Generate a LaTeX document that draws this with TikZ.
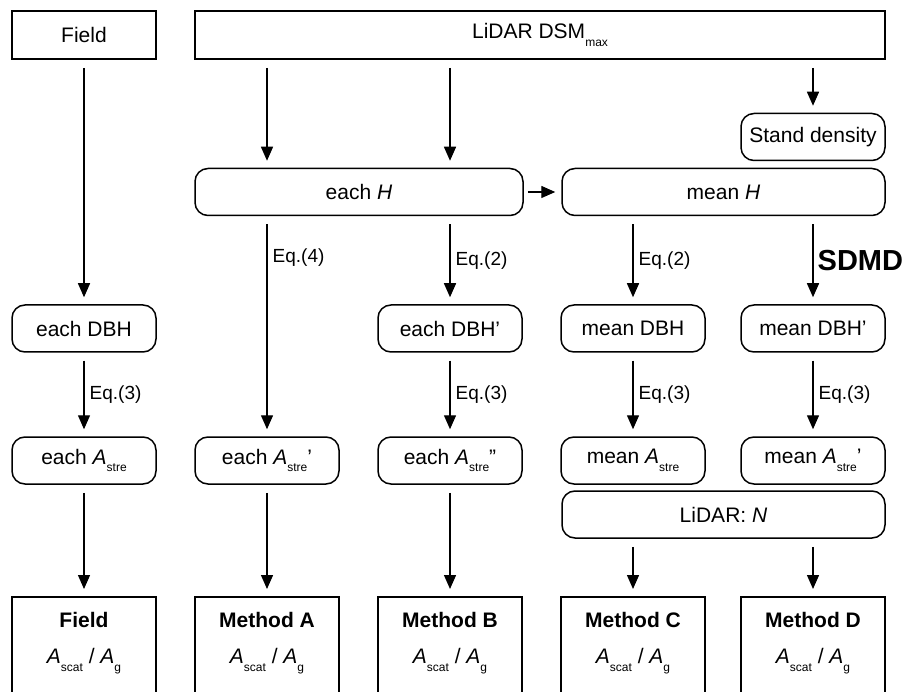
\documentclass[tikz,border=0pt]{standalone}
\usepackage{fontspec}
\setmainfont{Liberation Sans}
\usepackage{tikz}
\usetikzlibrary{positioning,calc,arrows.meta}
\newcommand{\lowsub}[1]{\raisebox{-0.35em}{\fontsize{12}{12}\selectfont #1}}
\newcommand{\Astre}{\textit{A}\lowsub{stre}}
\newcommand{\ratio}{\textit{A}\lowsub{scat} / \textit{A}\lowsub{g}}

\begin{document}
\begin{tikzpicture}[x=1pt,y=-1pt,
    font=\fontsize{21}{25}\selectfont,
    sqbox/.style={draw,line width=1.8pt,minimum height=48pt,inner sep=0pt},
    rbox/.style={draw,line width=1.5pt,rounded corners=13pt,minimum height=47pt,minimum width=144pt,inner sep=0pt},
    resbox/.style={draw,line width=1.8pt,anchor=north,minimum width=144pt,minimum height=130pt},
    restitle/.style={font=\fontsize{21}{25}\selectfont\bfseries},
    flow/.style={-{Triangle[length=14pt,width=12pt]},line width=1.4pt,shorten <=8pt,shorten >=7pt},
    eq/.style={right,inner sep=5pt,font=\fontsize{19}{21}\selectfont}]
    \useasboundingbox (0,0) rectangle (918,692);
    \clip (0,0) rectangle (918,692);

    % Sources
    \node[sqbox,minimum width=144pt] (field) at (84,35) {Field};
    \node[sqbox,minimum width=690pt] (lidar) at (540,35) {LiDAR DSM\lowsub{max}};
    \node[rbox] (stand) at (813,137) {Stand density};

    % Heights
    \node[rbox,minimum width=328pt] (eachH) at (359,192) {each \textit{H}};
    \node[rbox,minimum width=323pt] (meanH) at (723.5,192) {mean \textit{H}};

    % DBH
    \node[rbox] (eDBH) at (84,328.5) {each DBH};
    \node[rbox] (eDBHb) at (450,328.5) {each DBH’};
    \node[rbox] (mDBH) at (633,328.5) {mean DBH};
    \node[rbox] (mDBHb) at (813,328.5) {mean DBH’};

    % Stem areas
    \node[rbox] (eA) at (84,460.5) {each \Astre};
    \node[rbox] (eAa) at (267,460.5) {each \Astre’};
    \node[rbox] (eAb) at (450,460.5) {each \Astre”};
    \node[rbox] (mA) at (633,460.5) {mean \Astre};
    \node[rbox] (mAb) at (813,460.5) {mean \Astre’};
    \node[rbox,minimum width=323pt] (lidarN) at (723.5,514.5) {LiDAR: \textit{N}};

    % Results
    \node[resbox] (resF) at (84,596) {};
    \node[resbox] (resA) at (267,596) {};
    \node[resbox] (resB) at (450,596) {};
    \node[resbox] (resC) at (633,596) {};
    \node[resbox] (resD) at (813,596) {};
    \node[restitle] at ([yshift=-24pt]resF.north) {Field};
    \node[restitle] at ([yshift=-24pt]resA.north) {Method A};
    \node[restitle] at ([yshift=-24pt]resB.north) {Method B};
    \node[restitle] at ([yshift=-24pt]resC.north) {Method C};
    \node[restitle] at ([yshift=-24pt]resD.north) {Method D};
    \node at ([yshift=-65pt]resF.north) {\ratio};
    \node at ([yshift=-65pt]resA.north) {\ratio};
    \node at ([yshift=-65pt]resB.north) {\ratio};
    \node at ([yshift=-65pt]resC.north) {\ratio};
    \node at ([yshift=-65pt]resD.north) {\ratio};

    % Arrows
    \draw[flow] (field) -- (eDBH);
    \draw[flow] (lidar.south -| eAa) -- (eachH.north -| eAa);
    \draw[flow] (lidar.south -| eAb) -- (eachH.north -| eAb);
    \draw[flow] (lidar.south -| stand) -- (stand);
    \draw[flow,shorten <=4pt,shorten >=6pt] (eachH) -- (meanH);

    \draw[flow] (eachH.south -| eAa) -- node[eq,pos=0.19] {Eq.(4)} (eAa);
    \draw[flow] (eachH.south -| eAb) -- node[eq] {Eq.(2)} (eDBHb);
    \draw[flow] (meanH.south -| mDBH) -- node[eq] {Eq.(2)} (mDBH);
    \draw[flow] (meanH.south -| mDBHb) -- node[eq,inner sep=4pt,font=\bfseries\fontsize{29}{30}\selectfont] {SDMD} (mDBHb);

    \draw[flow] (eDBH) -- node[eq] {Eq.(3)} (eA);
    \draw[flow] (eDBHb) -- node[eq] {Eq.(3)} (eAb);
    \draw[flow] (mDBH) -- node[eq] {Eq.(3)} (mA);
    \draw[flow] (mDBHb) -- node[eq] {Eq.(3)} (mAb);

    \draw[flow] (eA) -- (resF);
    \draw[flow] (eAa) -- (resA);
    \draw[flow] (eAb) -- (resB);
    \draw[flow] (lidarN.south -| resC) -- (resC);
    \draw[flow] (lidarN.south -| resD) -- (resD);
\end{tikzpicture}
\end{document}
